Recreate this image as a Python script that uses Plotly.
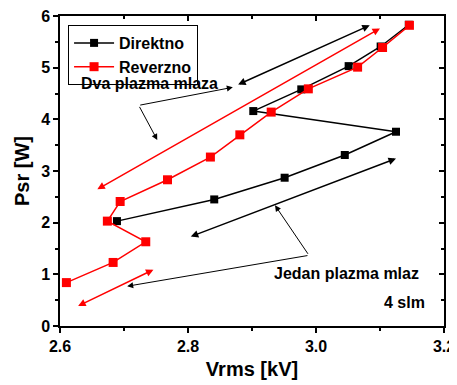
import plotly.graph_objects as go

# Direktno (black) series
vrms_direktno = [2.689, 2.841, 2.951, 3.045, 3.125, 2.902, 2.977, 3.051, 3.101, 3.145]
psr_direktno = [2.03, 2.45, 2.87, 3.31, 3.76, 4.16, 4.58, 5.03, 5.41, 5.83]

# Reverzno (red) series
vrms_reverzno = [2.610, 2.683, 2.734, 2.674, 2.694, 2.768, 2.835, 2.881, 2.930, 2.988, 3.065, 3.104, 3.146]
psr_reverzno = [0.84, 1.23, 1.63, 2.03, 2.41, 2.83, 3.27, 3.70, 4.14, 4.59, 5.01, 5.39, 5.82]

# double-headed direction arrows: (x0, y0, x1, y1, colour)
direction_arrows = [
    (2.876, 4.66, 3.084, 5.82, "black"),
    (2.656, 2.63, 3.100, 5.76, "red"),
    (2.802, 1.72, 3.125, 3.24, "black"),
    (2.626, 0.375, 2.746, 1.09, "red"),
]

# callout lines: hub -> tips
callouts = [
    ((2.723, 4.27), [(2.870, 4.62), (2.752, 3.60)]),
    ((2.989, 1.368), [(2.936, 2.336), (2.705, 0.77)]),
]

labels = [
    ("Dva plazma mlaza", 2.630, 4.70),
    ("Jedan plazma mlaz", 2.932, 1.014),
    ("4 slm", 3.103, 0.464),
]

FONT = "Arial, Liberation Sans, sans-serif"


def bold(size):
    return dict(family=FONT, size=size, color="black", weight="bold")


fig = go.Figure()
fig.add_trace(go.Scatter(
    x=vrms_direktno, y=psr_direktno, name="Direktno", mode="lines+markers",
    line=dict(color="black", width=1.5),
    marker=dict(symbol="square", size=8, color="black"),
))
fig.add_trace(go.Scatter(
    x=vrms_reverzno, y=psr_reverzno, name="Reverzno", mode="lines+markers",
    line=dict(color="red", width=1.5),
    marker=dict(symbol="square", size=9, color="red"),
))
# invisible trace so the mirrored (inside-tick) axes are drawn
fig.add_trace(go.Scatter(x=[2.6], y=[0], xaxis="x2", yaxis="y2", mode="markers",
                         marker=dict(opacity=0), showlegend=False, hoverinfo="skip"))

annotations = []
for x0, y0, x1, y1, col in direction_arrows:
    annotations.append(dict(
        x=x1, y=y1, ax=x0, ay=y0, xref="x", yref="y", axref="x", ayref="y",
        text="", showarrow=True, arrowhead=2, startarrowhead=2, arrowside="end+start",
        arrowsize=1, startarrowsize=1, arrowwidth=1.5, arrowcolor=col,
    ))
for (hx, hy), tips in callouts:
    for tx, ty in tips:
        annotations.append(dict(
            x=tx, y=ty, ax=hx, ay=hy, xref="x", yref="y", axref="x", ayref="y",
            text="", showarrow=True, arrowhead=2, arrowsize=1.2, arrowwidth=1,
            arrowcolor="black",
        ))
for txt, tx, ty in labels:
    annotations.append(dict(
        x=tx, y=ty, xref="x", yref="y", text=txt, showarrow=False,
        xanchor="left", yanchor="middle", font=bold(16),
    ))

axis_common = dict(
    showgrid=False, zeroline=False, showline=True, linecolor="black", linewidth=1.5,
    ticks="outside", ticklen=5, tickwidth=1.5, tickcolor="black", automargin=False,
    ticklabeloverflow="allow", tickfont=bold(16),
)
mirror_common = dict(
    showgrid=False, zeroline=False, showline=True, linecolor="black", linewidth=1.5,
    ticks="inside", ticklen=5, tickwidth=1.5, tickcolor="black", automargin=False,
    showticklabels=False,
)

# page body has an 8px margin, so the figure is shrunk by 8px and offsets reduced
fig.update_layout(
    template="none",
    width=449, height=377,
    margin=dict(l=52, r=13, t=8, b=59),
    plot_bgcolor="white", paper_bgcolor="white",
    xaxis=dict(range=[2.6, 3.2], dtick=0.2, tickformat=".1f",
               minor=dict(dtick=0.1, ticks="outside", ticklen=3, tickcolor="black"),
               title=dict(text="Vrms [kV]", standoff=8, font=bold(20)),
               **axis_common),
    yaxis=dict(range=[0, 6], dtick=1,
               minor=dict(dtick=0.5, ticks="outside", ticklen=3, tickcolor="black"),
               title=dict(text="Psr [W]", standoff=6, font=bold(20)),
               **axis_common),
    xaxis2=dict(range=[2.6, 3.2], overlaying="x", side="top", anchor="y2", dtick=0.2,
                minor=dict(dtick=0.1, ticks="inside", ticklen=3, tickcolor="black"),
                **mirror_common),
    yaxis2=dict(range=[0, 6], overlaying="y", side="right", anchor="x2", dtick=1,
                minor=dict(dtick=0.5, ticks="inside", ticklen=3, tickcolor="black"),
                **mirror_common),
    legend=dict(x=0.021, y=0.971, xanchor="left", yanchor="top",
                bordercolor="black", borderwidth=1, bgcolor="white",
                font=bold(16), tracegroupgap=0, itemwidth=40),
    annotations=annotations,
    showlegend=True,
)

fig.write_html("out.html")
